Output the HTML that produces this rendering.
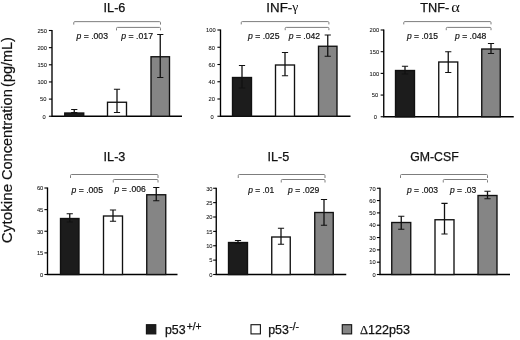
<!DOCTYPE html>
<html lang="en"><head><meta charset="utf-8"><title>Cytokine Concentration</title>
<style>html,body{margin:0;padding:0;background:#fff}body{width:520px;height:340px;overflow:hidden}svg{display:block}text{font-family:'Liberation Sans', Arial, Helvetica, sans-serif}</style>
</head><body>
<svg width="520" height="340" viewBox="0 0 520 340">
<rect width="520" height="340" fill="#fff"/>
<g transform="translate(11.8 0) rotate(-90)">
<text x="-243.2" y="0" textLength="59.3" font-size="14" lengthAdjust="spacingAndGlyphs" fill="#111" stroke="#111" stroke-width="0.2">Cytokine</text>
<text x="-180.1" y="0" textLength="90.9" font-size="14" lengthAdjust="spacingAndGlyphs" fill="#111" stroke="#111" stroke-width="0.2">Concentration</text>
<text x="-86.9" y="0" textLength="49.8" font-size="14" lengthAdjust="spacingAndGlyphs" fill="#111" stroke="#111" stroke-width="0.2">(pg/mL)</text>
</g>
<path d="M52 30.0V116.25H182" fill="none" stroke="#000" stroke-width="1.35"/>
<path d="M48.9 116.25H52" stroke="#000" stroke-width="1.1"/>
<text x="45.80" y="118.50" font-size="6.2" text-anchor="end" textLength="3.20" lengthAdjust="spacingAndGlyphs" fill="#111" stroke="#111" stroke-width="0.06">0</text>
<path d="M48.9 99.10H52" stroke="#000" stroke-width="1.1"/>
<text x="46.50" y="101.35" font-size="6.2" text-anchor="end" textLength="6.40" lengthAdjust="spacingAndGlyphs" fill="#111" stroke="#111" stroke-width="0.06">50</text>
<path d="M48.9 81.95H52" stroke="#000" stroke-width="1.1"/>
<text x="47.00" y="84.20" font-size="6.2" text-anchor="end" textLength="9.60" lengthAdjust="spacingAndGlyphs" fill="#111" stroke="#111" stroke-width="0.06">100</text>
<path d="M48.9 64.80H52" stroke="#000" stroke-width="1.1"/>
<text x="47.00" y="67.05" font-size="6.2" text-anchor="end" textLength="9.60" lengthAdjust="spacingAndGlyphs" fill="#111" stroke="#111" stroke-width="0.06">150</text>
<path d="M48.9 47.65H52" stroke="#000" stroke-width="1.1"/>
<text x="47.00" y="49.90" font-size="6.2" text-anchor="end" textLength="9.60" lengthAdjust="spacingAndGlyphs" fill="#111" stroke="#111" stroke-width="0.06">200</text>
<path d="M48.9 30.50H52" stroke="#000" stroke-width="1.1"/>
<text x="47.00" y="32.75" font-size="6.2" text-anchor="end" textLength="9.60" lengthAdjust="spacingAndGlyphs" fill="#111" stroke="#111" stroke-width="0.06">250</text>
<text x="114.5" y="11.8" font-size="12.5" text-anchor="middle" textLength="21.79" lengthAdjust="spacingAndGlyphs" fill="#111" stroke="#111" stroke-width="0.25">IL-6</text>
<rect x="64.75" y="113.0" width="19.0" height="3.25" fill="#1c1c1c" stroke="#111" stroke-width="1.35"/>
<path d="M74.25 109.5V112.5" stroke="#111" stroke-width="1.3" fill="none"/><path d="M71.15 109.5h6.2M71.15 112.5h6.2" stroke="#111" stroke-width="1.1" fill="none"/>
<rect x="107.5" y="102.25" width="19" height="14.0" fill="#ffffff" stroke="#111" stroke-width="1.35"/>
<path d="M117.0 89.25V112.5" stroke="#111" stroke-width="1.3" fill="none"/><path d="M113.9 89.25h6.2M113.9 112.5h6.2" stroke="#111" stroke-width="1.1" fill="none"/>
<rect x="151.0" y="56.75" width="18.5" height="59.5" fill="#858585" stroke="#111" stroke-width="1.35"/>
<path d="M160.25 34.5V77.5" stroke="#111" stroke-width="1.3" fill="none"/><path d="M157.15 34.5h6.2M157.15 77.5h6.2" stroke="#111" stroke-width="1.1" fill="none"/>
<path d="M73.75 24.6V22.65Q73.75 21.65 74.75 21.65H159.5Q160.5 21.65 160.5 22.65V24.6" fill="none" stroke="#7d7d7d" stroke-width="1"/>
<path d="M116.5 30.4V28.4Q116.5 27.4 117.5 27.4H159.5Q160.5 27.4 160.5 28.4V30.4" fill="none" stroke="#7d7d7d" stroke-width="1"/>
<text x="76.5" y="38.75" font-size="8.4" textLength="31.5" lengthAdjust="spacingAndGlyphs" fill="#111" stroke="#111" stroke-width="0.18"><tspan font-style="italic">p</tspan> = .003</text>
<text x="121.25" y="38.75" font-size="8.4" textLength="31.75" lengthAdjust="spacingAndGlyphs" fill="#111" stroke="#111" stroke-width="0.18"><tspan font-style="italic">p</tspan> = .017</text>
<path d="M220.5 29.5V116.25H350.5" fill="none" stroke="#000" stroke-width="1.35"/>
<path d="M217.4 116.25H220.5" stroke="#000" stroke-width="1.1"/>
<text x="213.70" y="118.50" font-size="6.2" text-anchor="end" textLength="3.20" lengthAdjust="spacingAndGlyphs" fill="#111" stroke="#111" stroke-width="0.06">0</text>
<path d="M217.4 99.00H220.5" stroke="#000" stroke-width="1.1"/>
<text x="215.00" y="101.25" font-size="6.2" text-anchor="end" textLength="6.40" lengthAdjust="spacingAndGlyphs" fill="#111" stroke="#111" stroke-width="0.06">20</text>
<path d="M217.4 81.75H220.5" stroke="#000" stroke-width="1.1"/>
<text x="215.00" y="84.00" font-size="6.2" text-anchor="end" textLength="6.40" lengthAdjust="spacingAndGlyphs" fill="#111" stroke="#111" stroke-width="0.06">40</text>
<path d="M217.4 64.50H220.5" stroke="#000" stroke-width="1.1"/>
<text x="215.00" y="66.75" font-size="6.2" text-anchor="end" textLength="6.40" lengthAdjust="spacingAndGlyphs" fill="#111" stroke="#111" stroke-width="0.06">60</text>
<path d="M217.4 47.25H220.5" stroke="#000" stroke-width="1.1"/>
<text x="215.00" y="49.50" font-size="6.2" text-anchor="end" textLength="6.40" lengthAdjust="spacingAndGlyphs" fill="#111" stroke="#111" stroke-width="0.06">80</text>
<path d="M217.4 30.00H220.5" stroke="#000" stroke-width="1.1"/>
<text x="215.60" y="32.25" font-size="6.2" text-anchor="end" textLength="9.60" lengthAdjust="spacingAndGlyphs" fill="#111" stroke="#111" stroke-width="0.06">100</text>
<text x="282.3" y="11.9" font-size="12.5" text-anchor="middle" textLength="31.92" lengthAdjust="spacingAndGlyphs" fill="#111" stroke="#111" stroke-width="0.25">INF-<tspan font-family="'Liberation Serif', 'DejaVu Serif', serif" font-size="12.8" dy="-0.9" stroke-width="0">γ</tspan></text>
<rect x="232.5" y="77.5" width="19" height="38.75" fill="#1c1c1c" stroke="#111" stroke-width="1.35"/>
<path d="M242.0 65.5V88" stroke="#111" stroke-width="1.3" fill="none"/><path d="M238.9 65.5h6.2M238.9 88h6.2" stroke="#111" stroke-width="1.1" fill="none"/>
<rect x="275.5" y="65.0" width="19" height="51.25" fill="#ffffff" stroke="#111" stroke-width="1.35"/>
<path d="M285.0 52.5V75.75" stroke="#111" stroke-width="1.3" fill="none"/><path d="M281.9 52.5h6.2M281.9 75.75h6.2" stroke="#111" stroke-width="1.1" fill="none"/>
<rect x="318.5" y="46.25" width="18.5" height="70.0" fill="#858585" stroke="#111" stroke-width="1.35"/>
<path d="M327.75 35V56.25" stroke="#111" stroke-width="1.3" fill="none"/><path d="M324.65 35h6.2M324.65 56.25h6.2" stroke="#111" stroke-width="1.1" fill="none"/>
<path d="M241.25 24.4V22.6Q241.25 21.6 242.25 21.6H327.9Q328.9 21.6 328.9 22.6V24.4" fill="none" stroke="#7d7d7d" stroke-width="1"/>
<path d="M285.2 30.2V28.4Q285.2 27.4 286.2 27.4H327.9Q328.9 27.4 328.9 28.4V30.2" fill="none" stroke="#7d7d7d" stroke-width="1"/>
<text x="248" y="39" font-size="8.4" textLength="31.5" lengthAdjust="spacingAndGlyphs" fill="#111" stroke="#111" stroke-width="0.18"><tspan font-style="italic">p</tspan> = .025</text>
<text x="288.75" y="39" font-size="8.4" textLength="31.25" lengthAdjust="spacingAndGlyphs" fill="#111" stroke="#111" stroke-width="0.18"><tspan font-style="italic">p</tspan> = .042</text>
<path d="M383.75 29.5V116.75H513.75" fill="none" stroke="#000" stroke-width="1.35"/>
<path d="M380.65 116.75H383.75" stroke="#000" stroke-width="1.1"/>
<text x="376.85" y="119.00" font-size="6.2" text-anchor="end" textLength="3.20" lengthAdjust="spacingAndGlyphs" fill="#111" stroke="#111" stroke-width="0.06">0</text>
<path d="M380.65 95.06H383.75" stroke="#000" stroke-width="1.1"/>
<text x="378.25" y="97.31" font-size="6.2" text-anchor="end" textLength="6.40" lengthAdjust="spacingAndGlyphs" fill="#111" stroke="#111" stroke-width="0.06">50</text>
<path d="M380.65 73.38H383.75" stroke="#000" stroke-width="1.1"/>
<text x="379.15" y="75.62" font-size="6.2" text-anchor="end" textLength="9.60" lengthAdjust="spacingAndGlyphs" fill="#111" stroke="#111" stroke-width="0.06">100</text>
<path d="M380.65 51.69H383.75" stroke="#000" stroke-width="1.1"/>
<text x="379.15" y="53.94" font-size="6.2" text-anchor="end" textLength="9.60" lengthAdjust="spacingAndGlyphs" fill="#111" stroke="#111" stroke-width="0.06">150</text>
<path d="M380.65 30.00H383.75" stroke="#000" stroke-width="1.1"/>
<text x="379.15" y="32.25" font-size="6.2" text-anchor="end" textLength="9.60" lengthAdjust="spacingAndGlyphs" fill="#111" stroke="#111" stroke-width="0.06">200</text>
<text x="434.75" y="11.9" font-size="12.5" text-anchor="middle" textLength="28.98" lengthAdjust="spacingAndGlyphs" fill="#111" stroke="#111" stroke-width="0.25">TNF-</text>
<rect x="395.5" y="70.5" width="19" height="46.25" fill="#1c1c1c" stroke="#111" stroke-width="1.35"/>
<path d="M405.0 66.25V74" stroke="#111" stroke-width="1.3" fill="none"/><path d="M401.9 66.25h6.2M401.9 74h6.2" stroke="#111" stroke-width="1.1" fill="none"/>
<rect x="438.75" y="62.0" width="19.0" height="54.75" fill="#ffffff" stroke="#111" stroke-width="1.35"/>
<path d="M448.25 51.75V72.5" stroke="#111" stroke-width="1.3" fill="none"/><path d="M445.15 51.75h6.2M445.15 72.5h6.2" stroke="#111" stroke-width="1.1" fill="none"/>
<rect x="481.75" y="49.0" width="18.5" height="67.75" fill="#858585" stroke="#111" stroke-width="1.35"/>
<path d="M491.0 43.5V53.5" stroke="#111" stroke-width="1.3" fill="none"/><path d="M487.9 43.5h6.2M487.9 53.5h6.2" stroke="#111" stroke-width="1.1" fill="none"/>
<path d="M403.75 24.4V22.6Q403.75 21.6 404.75 21.6H490Q491 21.6 491 22.6V24.4" fill="none" stroke="#7d7d7d" stroke-width="1"/>
<path d="M446.25 30.2V28.4Q446.25 27.4 447.25 27.4H490Q491 27.4 491 28.4V30.2" fill="none" stroke="#7d7d7d" stroke-width="1"/>
<text x="407" y="39.25" font-size="8.4" textLength="31" lengthAdjust="spacingAndGlyphs" fill="#111" stroke="#111" stroke-width="0.18"><tspan font-style="italic">p</tspan> = .015</text>
<text x="455" y="39.25" font-size="8.4" textLength="31.25" lengthAdjust="spacingAndGlyphs" fill="#111" stroke="#111" stroke-width="0.18"><tspan font-style="italic">p</tspan> = .048</text>
<text x="451.2" y="11.9" font-size="14" textLength="8.6" lengthAdjust="spacingAndGlyphs" fill="#111" style="font-family:'Liberation Serif','DejaVu Serif',serif">α</text>
<path d="M47.5 187.5V274.5H177.5" fill="none" stroke="#000" stroke-width="1.35"/>
<path d="M44.4 274.50H47.5" stroke="#000" stroke-width="1.1"/>
<text x="43.30" y="276.75" font-size="6.2" text-anchor="end" textLength="3.20" lengthAdjust="spacingAndGlyphs" fill="#111" stroke="#111" stroke-width="0.06">0</text>
<path d="M44.4 252.88H47.5" stroke="#000" stroke-width="1.1"/>
<text x="43.30" y="255.12" font-size="6.2" text-anchor="end" textLength="6.40" lengthAdjust="spacingAndGlyphs" fill="#111" stroke="#111" stroke-width="0.06">15</text>
<path d="M44.4 231.25H47.5" stroke="#000" stroke-width="1.1"/>
<text x="43.30" y="233.50" font-size="6.2" text-anchor="end" textLength="6.40" lengthAdjust="spacingAndGlyphs" fill="#111" stroke="#111" stroke-width="0.06">30</text>
<path d="M44.4 209.62H47.5" stroke="#000" stroke-width="1.1"/>
<text x="43.30" y="211.88" font-size="6.2" text-anchor="end" textLength="6.40" lengthAdjust="spacingAndGlyphs" fill="#111" stroke="#111" stroke-width="0.06">45</text>
<path d="M44.4 188.00H47.5" stroke="#000" stroke-width="1.1"/>
<text x="43.30" y="190.25" font-size="6.2" text-anchor="end" textLength="6.40" lengthAdjust="spacingAndGlyphs" fill="#111" stroke="#111" stroke-width="0.06">60</text>
<text x="114.5" y="160.7" font-size="12.5" text-anchor="middle" textLength="21.79" lengthAdjust="spacingAndGlyphs" fill="#111" stroke="#111" stroke-width="0.25">IL-3</text>
<rect x="60.5" y="218.5" width="18.5" height="56.0" fill="#1c1c1c" stroke="#111" stroke-width="1.35"/>
<path d="M69.75 213.75V222" stroke="#111" stroke-width="1.3" fill="none"/><path d="M66.65 213.75h6.2M66.65 222h6.2" stroke="#111" stroke-width="1.1" fill="none"/>
<rect x="103.5" y="216.0" width="19" height="58.5" fill="#ffffff" stroke="#111" stroke-width="1.35"/>
<path d="M113.0 210V221.25" stroke="#111" stroke-width="1.3" fill="none"/><path d="M109.9 210h6.2M109.9 221.25h6.2" stroke="#111" stroke-width="1.1" fill="none"/>
<rect x="146.75" y="194.75" width="19.0" height="79.75" fill="#858585" stroke="#111" stroke-width="1.35"/>
<path d="M156.25 187.5V200.75" stroke="#111" stroke-width="1.3" fill="none"/><path d="M153.15 187.5h6.2M153.15 200.75h6.2" stroke="#111" stroke-width="1.1" fill="none"/>
<path d="M70.5 178V175.5Q70.5 174.5 71.5 174.5H157Q158 174.5 158 175.5V178" fill="none" stroke="#7d7d7d" stroke-width="1"/>
<path d="M113.25 182.5V180.5Q113.25 179.5 114.25 179.5H157Q158 179.5 158 180.5V182.5" fill="none" stroke="#7d7d7d" stroke-width="1"/>
<text x="71.5" y="193" font-size="8.4" textLength="31.5" lengthAdjust="spacingAndGlyphs" fill="#111" stroke="#111" stroke-width="0.18"><tspan font-style="italic">p</tspan> = .005</text>
<text x="114.5" y="192" font-size="8.4" textLength="31.25" lengthAdjust="spacingAndGlyphs" fill="#111" stroke="#111" stroke-width="0.18"><tspan font-style="italic">p</tspan> = .006</text>
<path d="M216.25 187.75V274.5H346.25" fill="none" stroke="#000" stroke-width="1.35"/>
<path d="M213.15 274.50H216.25" stroke="#000" stroke-width="1.1"/>
<text x="212.55" y="276.75" font-size="6.2" text-anchor="end" textLength="3.20" lengthAdjust="spacingAndGlyphs" fill="#111" stroke="#111" stroke-width="0.06">0</text>
<path d="M213.15 260.12H216.25" stroke="#000" stroke-width="1.1"/>
<text x="212.55" y="262.38" font-size="6.2" text-anchor="end" textLength="3.20" lengthAdjust="spacingAndGlyphs" fill="#111" stroke="#111" stroke-width="0.06">5</text>
<path d="M213.15 245.75H216.25" stroke="#000" stroke-width="1.1"/>
<text x="212.55" y="248.00" font-size="6.2" text-anchor="end" textLength="6.40" lengthAdjust="spacingAndGlyphs" fill="#111" stroke="#111" stroke-width="0.06">10</text>
<path d="M213.15 231.38H216.25" stroke="#000" stroke-width="1.1"/>
<text x="212.55" y="233.62" font-size="6.2" text-anchor="end" textLength="6.40" lengthAdjust="spacingAndGlyphs" fill="#111" stroke="#111" stroke-width="0.06">15</text>
<path d="M213.15 217.00H216.25" stroke="#000" stroke-width="1.1"/>
<text x="212.55" y="219.25" font-size="6.2" text-anchor="end" textLength="6.40" lengthAdjust="spacingAndGlyphs" fill="#111" stroke="#111" stroke-width="0.06">20</text>
<path d="M213.15 202.62H216.25" stroke="#000" stroke-width="1.1"/>
<text x="212.55" y="204.88" font-size="6.2" text-anchor="end" textLength="6.40" lengthAdjust="spacingAndGlyphs" fill="#111" stroke="#111" stroke-width="0.06">25</text>
<path d="M213.15 188.25H216.25" stroke="#000" stroke-width="1.1"/>
<text x="212.55" y="190.50" font-size="6.2" text-anchor="end" textLength="6.40" lengthAdjust="spacingAndGlyphs" fill="#111" stroke="#111" stroke-width="0.06">30</text>
<text x="278.4" y="160.7" font-size="12.5" text-anchor="middle" textLength="21.79" lengthAdjust="spacingAndGlyphs" fill="#111" stroke="#111" stroke-width="0.25">IL-5</text>
<rect x="228.5" y="242.5" width="19" height="32.0" fill="#1c1c1c" stroke="#111" stroke-width="1.35"/>
<path d="M238.0 240.5V243.5" stroke="#111" stroke-width="1.3" fill="none"/><path d="M234.9 240.5h6.2M234.9 243.5h6.2" stroke="#111" stroke-width="1.1" fill="none"/>
<rect x="271.75" y="237.0" width="18.5" height="37.5" fill="#ffffff" stroke="#111" stroke-width="1.35"/>
<path d="M281.0 228.25V244.25" stroke="#111" stroke-width="1.3" fill="none"/><path d="M277.9 228.25h6.2M277.9 244.25h6.2" stroke="#111" stroke-width="1.1" fill="none"/>
<rect x="314.75" y="212.5" width="18.5" height="62.0" fill="#858585" stroke="#111" stroke-width="1.35"/>
<path d="M324.0 199.5V225.25" stroke="#111" stroke-width="1.3" fill="none"/><path d="M320.9 199.5h6.2M320.9 225.25h6.2" stroke="#111" stroke-width="1.1" fill="none"/>
<path d="M238.25 178V175.5Q238.25 174.5 239.25 174.5H324Q325 174.5 325 175.5V178" fill="none" stroke="#7d7d7d" stroke-width="1"/>
<path d="M281.25 182.5V180.5Q281.25 179.5 282.25 179.5H324Q325 179.5 325 180.5V182.5" fill="none" stroke="#7d7d7d" stroke-width="1"/>
<text x="248.25" y="192.5" font-size="8.4" textLength="26.0" lengthAdjust="spacingAndGlyphs" fill="#111" stroke="#111" stroke-width="0.18"><tspan font-style="italic">p</tspan> = .01</text>
<text x="288" y="192.5" font-size="8.4" textLength="31.25" lengthAdjust="spacingAndGlyphs" fill="#111" stroke="#111" stroke-width="0.18"><tspan font-style="italic">p</tspan> = .029</text>
<path d="M380 187.75V274.5H510" fill="none" stroke="#000" stroke-width="1.35"/>
<path d="M376.9 274.50H380" stroke="#000" stroke-width="1.1"/>
<text x="375.60" y="276.75" font-size="6.2" text-anchor="end" textLength="3.20" lengthAdjust="spacingAndGlyphs" fill="#111" stroke="#111" stroke-width="0.06">0</text>
<path d="M376.9 262.18H380" stroke="#000" stroke-width="1.1"/>
<text x="375.60" y="264.43" font-size="6.2" text-anchor="end" textLength="6.40" lengthAdjust="spacingAndGlyphs" fill="#111" stroke="#111" stroke-width="0.06">10</text>
<path d="M376.9 249.86H380" stroke="#000" stroke-width="1.1"/>
<text x="375.60" y="252.11" font-size="6.2" text-anchor="end" textLength="6.40" lengthAdjust="spacingAndGlyphs" fill="#111" stroke="#111" stroke-width="0.06">20</text>
<path d="M376.9 237.54H380" stroke="#000" stroke-width="1.1"/>
<text x="375.60" y="239.79" font-size="6.2" text-anchor="end" textLength="6.40" lengthAdjust="spacingAndGlyphs" fill="#111" stroke="#111" stroke-width="0.06">30</text>
<path d="M376.9 225.21H380" stroke="#000" stroke-width="1.1"/>
<text x="375.60" y="227.46" font-size="6.2" text-anchor="end" textLength="6.40" lengthAdjust="spacingAndGlyphs" fill="#111" stroke="#111" stroke-width="0.06">40</text>
<path d="M376.9 212.89H380" stroke="#000" stroke-width="1.1"/>
<text x="375.60" y="215.14" font-size="6.2" text-anchor="end" textLength="6.40" lengthAdjust="spacingAndGlyphs" fill="#111" stroke="#111" stroke-width="0.06">50</text>
<path d="M376.9 200.57H380" stroke="#000" stroke-width="1.1"/>
<text x="375.60" y="202.82" font-size="6.2" text-anchor="end" textLength="6.40" lengthAdjust="spacingAndGlyphs" fill="#111" stroke="#111" stroke-width="0.06">60</text>
<path d="M376.9 188.25H380" stroke="#000" stroke-width="1.1"/>
<text x="375.60" y="190.50" font-size="6.2" text-anchor="end" textLength="6.40" lengthAdjust="spacingAndGlyphs" fill="#111" stroke="#111" stroke-width="0.06">70</text>
<text x="434.4" y="160.6" font-size="12.5" text-anchor="middle" textLength="48.51" lengthAdjust="spacingAndGlyphs" fill="#111" stroke="#111" stroke-width="0.25">GM-CSF</text>
<rect x="391.75" y="222.5" width="19.0" height="52.0" fill="#858585" stroke="#111" stroke-width="1.35"/>
<path d="M401.25 216.25V229.25" stroke="#111" stroke-width="1.3" fill="none"/><path d="M398.15 216.25h6.2M398.15 229.25h6.2" stroke="#111" stroke-width="1.1" fill="none"/>
<rect x="435.0" y="219.75" width="19.0" height="54.75" fill="#ffffff" stroke="#111" stroke-width="1.35"/>
<path d="M444.5 203.4V234" stroke="#111" stroke-width="1.3" fill="none"/><path d="M441.4 203.4h6.2M441.4 234h6.2" stroke="#111" stroke-width="1.1" fill="none"/>
<rect x="478.0" y="195.5" width="19.0" height="79.0" fill="#858585" stroke="#111" stroke-width="1.35"/>
<path d="M487.5 191.25V198.75" stroke="#111" stroke-width="1.3" fill="none"/><path d="M484.4 191.25h6.2M484.4 198.75h6.2" stroke="#111" stroke-width="1.1" fill="none"/>
<path d="M400.5 178V175.5Q400.5 174.5 401.5 174.5H486.5Q487.5 174.5 487.5 175.5V178" fill="none" stroke="#7d7d7d" stroke-width="1"/>
<path d="M443.25 182.5V180.5Q443.25 179.5 444.25 179.5H486.5Q487.5 179.5 487.5 180.5V182.5" fill="none" stroke="#7d7d7d" stroke-width="1"/>
<text x="407" y="193" font-size="8.4" textLength="31" lengthAdjust="spacingAndGlyphs" fill="#111" stroke="#111" stroke-width="0.18"><tspan font-style="italic">p</tspan> = .003</text>
<text x="450" y="192.5" font-size="8.4" textLength="26.25" lengthAdjust="spacingAndGlyphs" fill="#111" stroke="#111" stroke-width="0.18"><tspan font-style="italic">p</tspan> = .03</text>
<rect x="146.4" y="324.7" width="9.4" height="9.2" fill="#1c1c1c" stroke="#111" stroke-width="1.1"/>
<text x="164.9" y="333.85" font-size="12.4" fill="#111" stroke="#111" stroke-width="0.25">p53<tspan font-size="10.3" dy="-3.6" dx="1.1">+/+</tspan></text>
<rect x="251.0" y="324.7" width="9.4" height="9.2" fill="#ffffff" stroke="#111" stroke-width="1.1"/>
<text x="268.2" y="333.85" font-size="12.4" fill="#111" stroke="#111" stroke-width="0.25">p53<tspan font-size="10.4" dy="-3.4" dx="0.3">-/-</tspan></text>
<rect x="342.25" y="324.7" width="9.4" height="9.2" fill="#858585" stroke="#111" stroke-width="1.1"/>
<text x="360" y="333.85" font-size="12.4" fill="#111" stroke="#111" stroke-width="0.25" textLength="50" lengthAdjust="spacingAndGlyphs"><tspan font-family="'Liberation Serif', serif">Δ</tspan>122p53</text>
</svg></body></html>
